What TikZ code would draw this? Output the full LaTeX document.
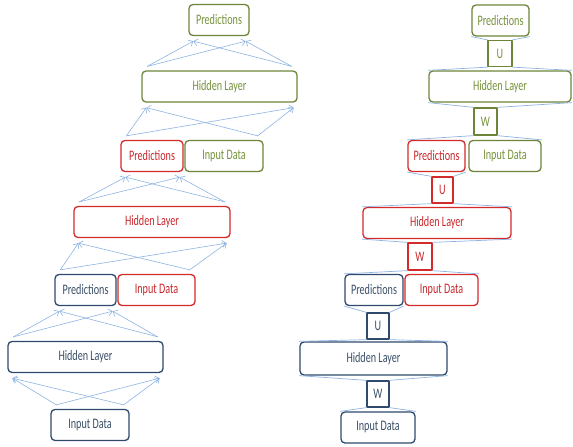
\documentclass[tikz,border=0pt]{standalone}
\usepackage{fontspec}
\setmainfont[FakeStretch=0.7]{Carlito}
\usepackage{tikz}
\usetikzlibrary{arrows.meta}

\definecolor{olivebd}{HTML}{6E8539}
\definecolor{olivetx}{HTML}{76923C}
\definecolor{redbd}{HTML}{D42A2A}
\definecolor{redtx}{HTML}{C8282C}
\definecolor{navybd}{HTML}{2F4A6C}
\definecolor{navytx}{HTML}{3A4F68}
\definecolor{flowblue}{HTML}{8DB3E2}

\begin{document}
\begin{tikzpicture}[x=1pt,y=-1pt,line cap=round,line join=round,
  box/.style={rectangle, rounded corners=4pt, line width=1.3pt, fill=white,
    inner sep=0pt, minimum height=31pt, font=\fontsize{14.5}{16}\selectfont},
  grnbox/.style={box, draw=olivebd, text=olivetx},
  redbox/.style={box, draw=redbd, text=redtx},
  bluebox/.style={box, draw=navybd, text=navytx},
  wtbox/.style={rectangle, line width=1.3pt, inner sep=0pt, minimum width=23pt,
    minimum height=26pt, font=\fontsize{14.5}{16}\selectfont},
  flow/.style={flowblue, line width=0.6pt, -{Straight Barb[length=4pt,width=7pt]}},
  link/.style={flowblue, line width=0.7pt}]

\useasboundingbox (0,0) rectangle (573,447);

% unrolled network, left
\node[grnbox, minimum width=60pt]  (predGa) at (219,20)    {Predictions};
\node[grnbox, minimum width=155pt] (hidGa)  at (219.5,86.5) {Hidden Layer};
\node[redbox, minimum width=62pt]  (predRa) at (152,156)   {Predictions};
\node[grnbox, minimum width=78pt]  (inpGa)  at (224,156)   {Input Data};
\node[redbox, minimum width=156pt] (hidRa)  at (152,222)   {Hidden Layer};
\node[bluebox, minimum width=61pt] (predBa) at (85.5,290)  {Predictions};
\node[redbox, minimum width=77pt]  (inpRa)  at (156.5,290) {Input Data};
\node[bluebox, minimum width=155pt] (hidBa) at (85.5,357)  {Hidden Layer};
\node[bluebox, minimum width=78pt] (inpBa)  at (90,425)    {Input Data};

\foreach \sl/\sr/\tb in {inpBa/inpBa/hidBa, hidBa/hidBa/predBa,
    predBa/inpRa/hidRa, hidRa/hidRa/predRa,
    predRa/inpGa/hidGa, hidGa/hidGa/predGa} {
  \coordinate (s1) at ([xshift=6pt,yshift=4pt]\sl.north west);
  \coordinate (s2) at ([xshift=-6pt,yshift=4pt]\sr.north east);
  \coordinate (t1) at ([xshift=5pt,yshift=-5pt]\tb.south west);
  \coordinate (t2) at ([xshift=-4pt,yshift=-5pt]\tb.south east);
  \draw[flow] (s1) -- (t1);
  \draw[flow] (s1) -- (t2);
  \draw[flow] (s2) -- (t1);
  \draw[flow] (s2) -- (t2);
}

% shared weights, right
\node[grnbox, minimum width=57pt]  (predGb) at (500.5,20.5) {Predictions};
\node[wtbox, draw=olivebd, text=olivetx, minimum width=24pt] (uG) at (500,53.5) {U};
\node[grnbox, minimum width=142pt] (hidGb)  at (500,86.5)   {Hidden Layer};
\node[wtbox, draw=olivebd, text=olivetx, minimum height=27pt] (wG) at (485.5,121.5) {W};
\node[redbox, minimum width=57pt]  (predRb) at (436.5,156)  {Predictions};
\node[grnbox, minimum width=72pt]  (inpGb)  at (505,156)    {Input Data};
\node[wtbox, draw=redbd, text=redtx, minimum width=21pt] (uR) at (442.5,190) {U};
\node[redbox, minimum width=148pt] (hidRb)  at (437,223)    {Hidden Layer};
\node[wtbox, draw=redbd, text=redtx, minimum width=24pt, minimum height=27pt] (wR) at (420,256.5) {W};
\node[bluebox, minimum width=58pt] (predBb) at (374,290)    {Predictions};
\node[redbox, minimum width=73pt]  (inpRb)  at (441.5,290)  {Input Data};
\node[wtbox, draw=navybd, text=navytx, minimum width=22pt] (uB) at (378,326) {U};
\node[bluebox, minimum width=147pt, minimum height=33pt] (hidBb) at (373.5,358.5) {Hidden Layer};
\node[wtbox, draw=navybd, text=navytx, minimum width=22pt] (wB) at (378,394) {W};
\node[bluebox, minimum width=74pt] (inpBb)  at (378,427.5)  {Input Data};

\foreach \ta/\jn/\bl/\br in {predGb/uG/hidGb/hidGb, hidGb/wG/predRb/inpGb,
    predRb/uR/hidRb/hidRb, hidRb/wR/predBb/inpRb,
    predBb/uB/hidBb/hidBb, hidBb/wB/inpBb/inpBb} {
  \draw[link] (\ta.south west) -- (\jn.north west);
  \draw[link] (\ta.south east) -- (\jn.north east);
  \draw[link] (\jn.south west) -- (\bl.north west);
  \draw[link] (\jn.south east) -- (\br.north east);
}

\end{tikzpicture}
\end{document}
